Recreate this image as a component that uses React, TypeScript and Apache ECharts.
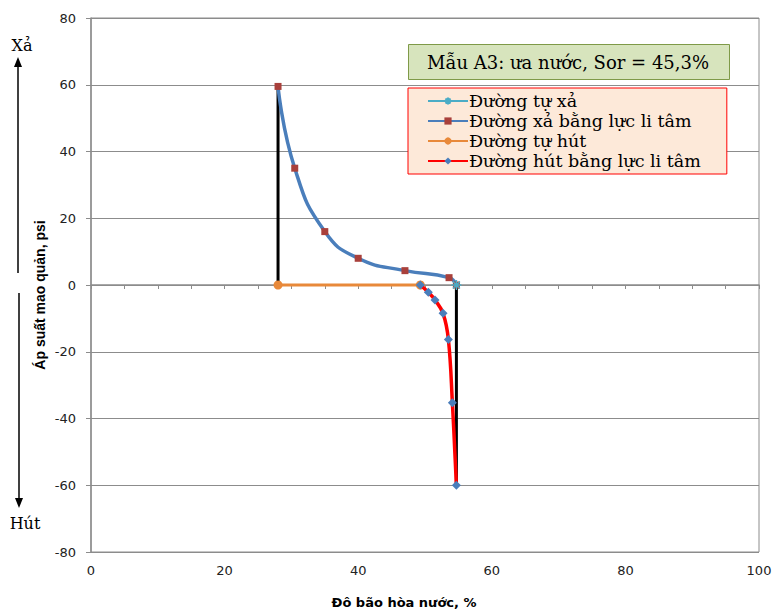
import React, { useEffect, useRef } from "react";
import * as echarts from "echarts";

const seriesNames = [
  "Đường tự xả",
  "Đường xả bằng lực li tâm",
  "Đường tự hút",
  "Đường hút bằng lực li tâm",
];

const tuXa: number[][] = [[54.7, 0]];
const xaLiTam: number[][] = [
  [28, 59.5],
  [30.5, 35],
  [35, 16],
  [40, 8],
  [47, 4.3],
  [53.6, 2.2],
  [54.7, 0],
];
const tuHut: number[][] = [
  [28, 0],
  [49.3, 0],
];
const hutLiTam: number[][] = [
  [49.3, 0],
  [50.5, -2.2],
  [51.5, -4.5],
  [52.7, -8.5],
  [53.5, -16.3],
  [54.1, -35.3],
  [54.7, -60],
];
const blackLeft: number[][] = [
  [28, 0],
  [28, 59.5],
];
const blackRight: number[][] = [
  [54.7, 0],
  [54.7, -60],
];

const titleText = "Mẫu A3: ưa nước, Sor = 45,3%";
const yAxisName = "Áp suất mao quản, psi";
const xAxisName = "Đô bão hòa nước, %";

const serif = "'DejaVu Serif', 'Liberation Serif', serif";
const sans = "'DejaVu Sans', Verdana, sans-serif";

export default function App() {
  const ref = useRef<HTMLDivElement>(null);
  useEffect(() => {
    document.body.style.margin = "0";
    if (!ref.current) return;
    const chart = echarts.init(ref.current, undefined, { renderer: "svg" });
    const asterisk =
      "path://M5 0 L5 10 M0 5 L10 5 M1.5 1.5 L8.5 8.5 M1.5 8.5 L8.5 1.5";
    chart.setOption({
      animation: false,
      backgroundColor: "#ffffff",
      title: {
        text: titleText,
        left: 408,
        top: 44,
        backgroundColor: "#d7e4bd",
        borderColor: "#7f9a48",
        borderWidth: 1,
        padding: [9, 21, 9, 19],
        textStyle: {
          fontFamily: serif,
          fontSize: 18,
          fontWeight: "normal",
          color: "#000",
        },
      },
      legend: {
        data: seriesNames,
        orient: "vertical",
        left: 408,
        top: 88,
        backgroundColor: "#fde9d9",
        borderColor: "#ff0000",
        borderWidth: 1,
        padding: [4, 26, 4, 19],
        itemWidth: 40,
        itemHeight: 9,
        itemGap: 2,
        textStyle: { fontFamily: serif, fontSize: 17.5, color: "#000", padding: [0, 0, 0, -4] },
      },
      grid: {
        left: 91,
        right: 18,
        top: 18,
        bottom: 57,
        show: true,
        borderColor: "#8c8c8c",
        borderWidth: 1,
      },
      xAxis: {
        type: "value",
        min: 0,
        max: 100,
        interval: 20,
        axisLine: { show: true, lineStyle: { color: "#8c8c8c", width: 1.5 } },
        axisTick: { show: true, length: 4, lineStyle: { color: "#8c8c8c" } },
        minorTick: { show: true, splitNumber: 4, length: 4, lineStyle: { color: "#8c8c8c" } },
        splitLine: { show: false },
        axisLabel: { fontFamily: sans, fontSize: 13, color: "#222", margin: 12 },
      },
      yAxis: {
        type: "value",
        min: -80,
        max: 80,
        interval: 20,
        axisLine: { show: true, lineStyle: { color: "#8c8c8c", width: 1.5 } },
        axisTick: { show: true, length: 5, lineStyle: { color: "#8c8c8c" } },
        splitLine: { show: true, lineStyle: { color: "#8c8c8c", width: 1 } },
        axisLabel: { fontFamily: sans, fontSize: 13, color: "#222", margin: 15 },
      },
      graphic: [
        {
          type: "text",
          x: 40,
          y: 295,
          rotation: Math.PI / 2,
          style: {
            text: yAxisName,
            font: "bold 14px 'Liberation Sans Narrow', 'Arial Narrow', sans-serif",
            fill: "#000",
            textAlign: "center",
            textVerticalAlign: "middle",
          },
        },
        {
          type: "text",
          x: 404,
          y: 602,
          style: {
            text: xAxisName,
            font: "bold 13px 'DejaVu Sans', sans-serif",
            fill: "#000",
            textAlign: "center",
            textVerticalAlign: "middle",
          },
        },
        {
          type: "text",
          x: 22,
          y: 45,
          style: {
            text: "Xả",
            font: "16px 'DejaVu Serif', serif",
            fill: "#000",
            textAlign: "center",
            textVerticalAlign: "middle",
          },
        },
        {
          type: "text",
          x: 25,
          y: 523,
          style: {
            text: "Hút",
            font: "16px 'DejaVu Serif', serif",
            fill: "#000",
            textAlign: "center",
            textVerticalAlign: "middle",
          },
        },
        {
          type: "line",
          shape: { x1: 18, y1: 273, x2: 18, y2: 64 },
          style: { stroke: "#000", lineWidth: 1.5 },
        },
        {
          type: "polygon",
          shape: { points: [[18, 57], [14, 67], [22, 67]] },
          style: { fill: "#000" },
        },
        {
          type: "line",
          shape: { x1: 19, y1: 293, x2: 19, y2: 500 },
          style: { stroke: "#000", lineWidth: 1.5 },
        },
        {
          type: "polygon",
          shape: { points: [[19, 508], [15, 498], [23, 498]] },
          style: { fill: "#000" },
        },
      ],
      series: [
        {
          name: "blackLeft",
          type: "line",
          data: blackLeft,
          showSymbol: false,
          symbol: "none",
          lineStyle: { color: "#000", width: 3 },
          z: 1,
        },
        {
          name: "blackRight",
          type: "line",
          data: blackRight,
          showSymbol: false,
          symbol: "none",
          lineStyle: { color: "#000", width: 3 },
          z: 1,
        },
        {
          name: seriesNames[2],
          type: "line",
          data: tuHut,
          symbol: "circle",
          symbolSize: 9,
          itemStyle: { color: "#e8893a" },
          lineStyle: { color: "#e8893a", width: 3 },
          z: 2,
        },
        {
          name: seriesNames[1],
          type: "line",
          data: xaLiTam,
          smooth: 0.5,
          symbol: "rect",
          symbolSize: 7,
          itemStyle: { color: "#a9403b" },
          lineStyle: { color: "#4a7ebb", width: 3.5 },
          z: 3,
        },
        {
          name: seriesNames[3],
          type: "line",
          data: hutLiTam,
          smooth: 0.4,
          symbol: "diamond",
          symbolSize: 9,
          itemStyle: { color: "#4a7ebb" },
          lineStyle: { color: "#ff0000", width: 3.5 },
          z: 4,
        },
        {
          name: seriesNames[0],
          type: "line",
          data: tuXa,
          symbol: asterisk,
          symbolSize: 10,
          itemStyle: { color: "#4bacc6", borderColor: "#4bacc6", borderWidth: 1.5 },
          lineStyle: { color: "#4bacc6", width: 3 },
          z: 5,
        },
      ],
    });
    return () => chart.dispose();
  }, []);
  return <div ref={ref} style={{ position: "absolute", left: 0, top: 0, width: 777, height: 609 }} />;
}
